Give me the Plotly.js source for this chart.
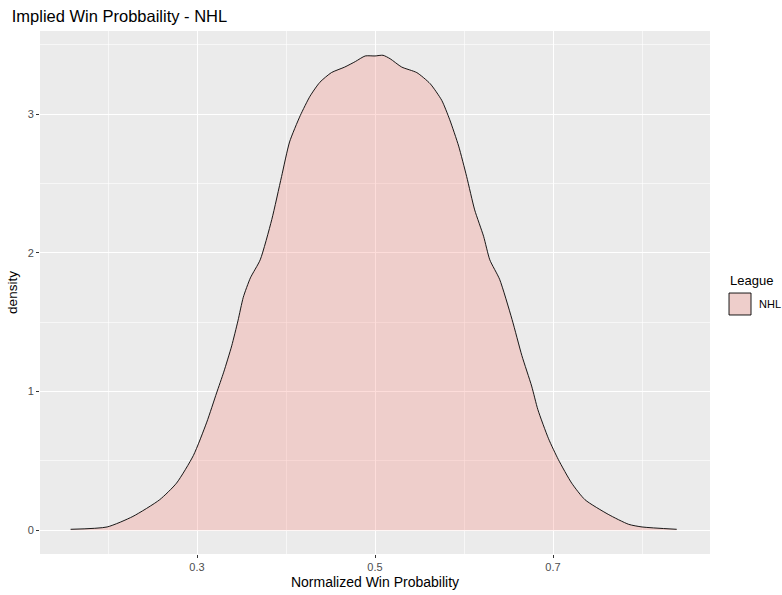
<!DOCTYPE html>
<html>
<head>
<meta charset="utf-8">
<script src="https://cdn.plot.ly/plotly-3.0.1.min.js"></script>
<style>html,body{margin:0;padding:0;background:#fff;}#chart{width:782px;height:595px;}</style>
</head>
<body>
<div id="chart"></div>
<script>
// Density estimate (Normalized Win Probability vs density)
const winProb = [0.158, 0.199, 0.228, 0.258, 0.277, 0.296, 0.311, 0.322, 0.330, 0.339, 0.346, 0.352, 0.360, 0.371, 0.384, 0.395, 0.404, 0.416, 0.427, 0.438, 0.451, 0.466, 0.478, 0.489, 0.500, 0.509, 0.517, 0.530, 0.547, 0.562, 0.575, 0.584, 0.594, 0.603, 0.612, 0.622, 0.629, 0.640, 0.654, 0.665, 0.676, 0.683, 0.695, 0.706, 0.721, 0.736, 0.762, 0.785, 0.800, 0.839];
const density = [0.007, 0.024, 0.10, 0.22, 0.34, 0.54, 0.78, 0.99, 1.14, 1.33, 1.51, 1.68, 1.82, 1.95, 2.24, 2.55, 2.80, 2.99, 3.13, 3.23, 3.30, 3.34, 3.38, 3.42, 3.42, 3.425, 3.40, 3.34, 3.30, 3.22, 3.10, 2.96, 2.77, 2.55, 2.31, 2.12, 1.95, 1.81, 1.52, 1.26, 1.04, 0.87, 0.66, 0.51, 0.34, 0.22, 0.115, 0.043, 0.024, 0.007];
const leagueName = "NHL";
const legendTitle = "League";
const xTicks = [0.3, 0.5, 0.7];
const xTickLabels = ["0.3", "0.5", "0.7"];
const yTicks = [0, 1, 2, 3];
const yTickLabels = ["0", "1", "2", "3"];

const fillColor = "rgba(248,118,109,0.25)";

const traces = [
  {
    x: winProb, y: density, type: "scatter", mode: "lines",
    name: leagueName,
    fill: "tozeroy", fillcolor: fillColor,
    line: {color: "#000000", width: 0.9, shape: "spline", smoothing: 0.6},
    showlegend: false, hoverinfo: "skip"
  }
];

const axisCommon = {
  showline: false, zeroline: false, automargin: false,
  gridcolor: "#FFFFFF", gridwidth: 1,
  ticks: "outside", ticklen: 3, tickwidth: 1, tickcolor: "#333333",
  tickfont: {family: "Liberation Sans, Arial, sans-serif", size: 11, color: "#4D4D4D"},
  fixedrange: true
};

const layout = {
  width: 782, height: 595,
  margin: {l: 40, r: 72, t: 31, b: 41, autoexpand: false},
  paper_bgcolor: "#FFFFFF", plot_bgcolor: "#EBEBEB",
  font: {family: "Liberation Sans, Arial, sans-serif", color: "#000000"},
  title: {text: "Implied Win Probbaility - NHL", x: 0.015, xanchor: "left", y: 0.973, yanchor: "middle",
          font: {size: 16.5, color: "#000000"}},
  xaxis: Object.assign({}, axisCommon, {
    range: [0.1236, 0.8764],
    tickvals: xTicks, ticktext: xTickLabels,
    minor: {tickvals: [0.2, 0.4, 0.6, 0.8], showgrid: true, gridcolor: "#FFFFFF", gridwidth: 0.6, ticks: ""},
    title: {text: "Normalized Win Probability", standoff: 4, font: {size: 14, color: "#000000"}}
  }),
  yaxis: Object.assign({}, axisCommon, {
    range: [-0.171, 3.60],
    tickvals: yTicks, ticktext: yTickLabels,
    minor: {tickvals: [0.5, 1.5, 2.5, 3.5], showgrid: true, gridcolor: "#FFFFFF", gridwidth: 0.6, ticks: ""},
    title: {text: "density", standoff: 6, font: {size: 13.5, color: "#000000"}}
  }),
  showlegend: false,
  shapes: [
    {type: "rect", xref: "paper", yref: "paper", x0: 1.0284, x1: 1.0612, y0: 0.457, y1: 0.499,
     fillcolor: "rgb(238,206,203)", line: {color: "#000000", width: 0.9}, layer: "above"}
  ],
  annotations: [
    {text: legendTitle, xref: "paper", yref: "paper", x: 1.027, y: 0.522,
     xanchor: "left", yanchor: "middle", showarrow: false,
     font: {size: 13, color: "#000000"}},
    {text: leagueName, xref: "paper", yref: "paper", x: 1.070, y: 0.478,
     xanchor: "left", yanchor: "middle", showarrow: false,
     font: {size: 11, color: "#000000"}}
  ]
};

Plotly.newPlot("chart", traces, layout, {displayModeBar: false, staticPlot: true});
</script>
</body>
</html>
